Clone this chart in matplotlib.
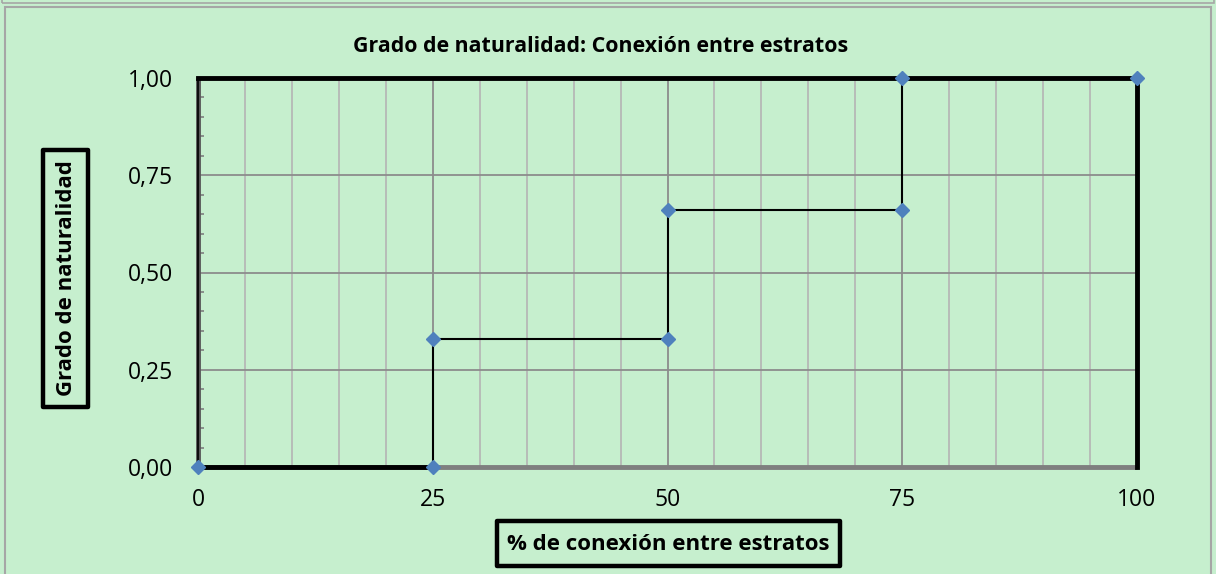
import matplotlib
matplotlib.use("Agg")
import matplotlib.pyplot as plt
from matplotlib.patches import Rectangle
import numpy as np

plt.rcParams['font.family'] = ['Open Sans', 'DejaVu Sans']

# data
conexion = [0, 25, 25, 50, 50, 75, 75, 100]
grado = [0.0, 0.0, 0.33, 0.33, 0.66, 0.66, 1.0, 1.0]
x_ticks = [0, 25, 50, 75, 100]
y_ticks = [0.0, 0.25, 0.50, 0.75, 1.00]
y_tick_labels = ["0,00", "0,25", "0,50", "0,75", "1,00"]
title = "Grado de naturalidad: Conexión entre estratos"
xlabel = "% de conexión entre estratos"
ylabel = "Grado de naturalidad"

BG = "#C6EFCE"
W, H = 1216, 574
fig = plt.figure(figsize=(W / 100, H / 100), dpi=100)
fig.patch.set_facecolor(BG)


def px_rect(x0, y0, x1, y1, **kw):
    """Rectangle given in pixel coords (top-left origin) -> figure coords."""
    return Rectangle((x0 / W, 1 - y1 / H), (x1 - x0) / W, (y1 - y0) / H,
                     transform=fig.transFigure, **kw)


# outer boxes (top strip of previous chart + chart border)
fig.patches.append(Rectangle((2 / W, 1 - 3 / H), 1 - 4 / W, 0.1, transform=fig.transFigure,
                             fill=False, edgecolor="#A6A6A6", lw=1.2))
fig.patches.append(Rectangle((5 / W, -0.1), 1 - 10 / W, 1 - 7 / H + 0.1, transform=fig.transFigure,
                             fill=False, edgecolor="#A6A6A6", lw=1.5))

ax = fig.add_axes([198 / W, 1 - 467 / H, (1137 - 198) / W, (467 - 78) / H])
ax.set_facecolor(BG)
ax.set_xlim(0, 100)
ax.set_ylim(0, 1)

# grid
for xv in np.arange(5, 100, 5):
    if xv % 25 == 0:
        ax.axvline(xv, color="#8C8C8C", lw=1.3, zorder=1)
    else:
        ax.axvline(xv, color="#B4B4B4", lw=1.2, zorder=1)
for yv in y_ticks[1:-1]:
    ax.axhline(yv, color="#8C8C8C", lw=1.3, zorder=1)

for s in ax.spines.values():
    s.set_visible(False)

# frame lines
ax.plot([0, 100], [0, 0], color="#7F7F7F", lw=3.5, solid_capstyle="butt", zorder=2, clip_on=False)
ax.plot([0, 0], [0, 1], color="#595959", lw=3.5, solid_capstyle="butt", zorder=2, clip_on=False)
ax.plot([0, 0], [0, 1], color="black", lw=1.2, zorder=3, clip_on=False)
ax.plot([0, 25], [0, 0], color="black", lw=3.5, solid_capstyle="butt", zorder=3, clip_on=False)
ax.plot([0, 100, 100], [1, 1, 0], color="black", lw=3.5, solid_capstyle="projecting", zorder=3, clip_on=False)

# step line
ax.plot(conexion, grado, color="black", lw=1.5, zorder=4, clip_on=False)
ax.plot(conexion, grado, linestyle="none", marker="D", markersize=7.5,
        markerfacecolor="#4F81BD", markeredgecolor="#4F81BD", zorder=5, clip_on=False)

ax.set_xticks(x_ticks)
ax.set_xticklabels([str(v) for v in x_ticks])
ax.set_yticks(y_ticks)
ax.set_yticklabels(y_tick_labels)
ax.set_yticks(np.arange(0, 1.001, 0.05), minor=True)
ax.tick_params(axis="x", which="both", length=0, pad=15, labelsize=16.5)
ax.tick_params(axis="y", which="major", length=0, pad=18, labelsize=16.5)
ax.tick_params(axis="y", which="minor", direction="in", length=4, color="#7F7F7F", width=1.2)
ax.tick_params(axis="x", which="minor", length=0)

fig.text(601 / W, 1 - 46 / H, title, ha="center", va="center", fontsize=15.4, fontweight="bold")

# axis title boxes
fig.patches.append(px_rect(43, 150, 88, 407, fill=False, edgecolor="black", lw=3.2,
                           joinstyle="round"))
fig.patches.append(px_rect(497, 521, 840, 566, fill=False, edgecolor="black", lw=3.2,
                           joinstyle="round"))
fig.text(66 / W, 1 - 278 / H, ylabel, ha="center", va="center", rotation=90, fontsize=16,
         fontweight="bold")
fig.text(668 / W, 1 - 544 / H, xlabel, ha="center", va="center", fontsize=16,
         fontweight="bold")

fig.savefig("out.png", dpi=100, facecolor=BG)
